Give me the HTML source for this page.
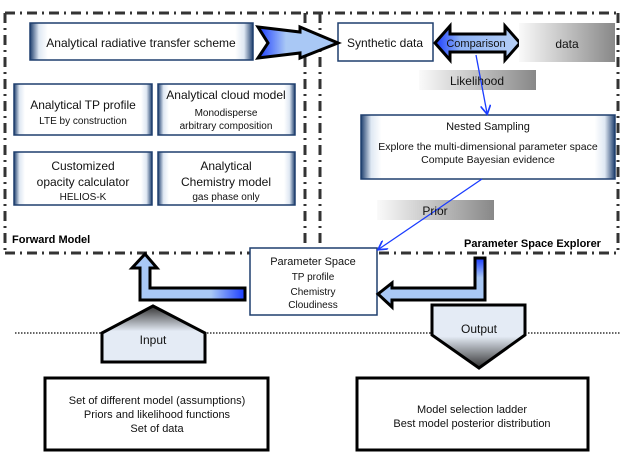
<!DOCTYPE html>
<html><head><meta charset="utf-8"><style>
body{margin:0;background:#fff;}
svg text{font-family:"Liberation Sans",sans-serif;}
</style></head><body>
<svg width="623" height="460" viewBox="0 0 623 460" xmlns="http://www.w3.org/2000/svg">
<defs>
<linearGradient id="bx" x1="0" x2="1" y1="0" y2="0">
<stop offset="0" stop-color="#1f3f6e"/><stop offset="0.04" stop-color="#dfe8f3"/><stop offset="0.08" stop-color="#fff"/><stop offset="0.92" stop-color="#fff"/><stop offset="0.96" stop-color="#dfe8f3"/><stop offset="1" stop-color="#1f3f6e"/>
</linearGradient>
<linearGradient id="gr" x1="0" x2="1"><stop offset="0" stop-color="#fafafa"/><stop offset="1" stop-color="#888"/></linearGradient>
<linearGradient id="ar" x1="0" x2="1"><stop offset="0" stop-color="#1a3cff"/><stop offset="0.35" stop-color="#a9c8f5"/><stop offset="1" stop-color="#a9c8f5"/></linearGradient>
<linearGradient id="arL" x1="1" x2="0"><stop offset="0" stop-color="#1a3cff"/><stop offset="0.3" stop-color="#a9c8f5"/><stop offset="1" stop-color="#a9c8f5"/></linearGradient>
<linearGradient id="arD" x1="0" x2="0" y1="0" y2="1"><stop offset="0" stop-color="#1a3cff"/><stop offset="0.4" stop-color="#a9c8f5"/><stop offset="1" stop-color="#a9c8f5"/></linearGradient>
<linearGradient id="cmp" x1="0" x2="1"><stop offset="0" stop-color="#1a3cff"/><stop offset="0.3" stop-color="#8fb3f5"/><stop offset="1" stop-color="#b7d0f5"/></linearGradient>
<linearGradient id="out" x1="0" x2="0" y1="0" y2="1"><stop offset="0" stop-color="#e4ebf5"/><stop offset="0.5" stop-color="#e4ebf5"/><stop offset="1" stop-color="#333"/></linearGradient>
<linearGradient id="inp" x1="0" x2="0" y1="0" y2="1"><stop offset="0" stop-color="#333"/><stop offset="0.45" stop-color="#e4ebf5"/><stop offset="1" stop-color="#e4ebf5"/></linearGradient>
<marker id="ah" markerWidth="8" markerHeight="8" refX="6" refY="4" orient="auto"><path d="M0,0 L7,4 L0,8" fill="none" stroke="#1a3cff" stroke-width="1.3"/></marker>
</defs>
<g stroke="#333" stroke-width="3" fill="none" stroke-dasharray="10,5,2,5">
<line x1="5" y1="13" x2="620" y2="13"/>
<line x1="5" y1="13" x2="5" y2="250"/>
<line x1="305" y1="13" x2="305" y2="250"/>
<line x1="320" y1="13" x2="320" y2="250"/>
<line x1="618" y1="13" x2="618" y2="250"/>
<line x1="5" y1="253" x2="620" y2="253"/>
</g>
<line x1="15" y1="333" x2="620" y2="333" stroke="#333" stroke-width="1.5" stroke-dasharray="1.5,1.5"/>
<g stroke="#1f3f6e" stroke-width="1.5" fill="url(#bx)">
<rect x="30" y="23" width="223" height="37"/>
<rect x="14" y="84" width="138" height="51"/>
<rect x="158" y="84" width="137" height="51"/>
<rect x="14" y="152" width="138" height="53"/>
<rect x="158" y="152" width="137" height="53"/>
<rect x="361" y="115" width="254" height="64"/>
<rect x="338" y="23" width="95" height="38" fill="#fff"/>
<rect x="250" y="248" width="127" height="67" fill="#fff"/>
</g>
<path d="M258,27 L300,32 L300,27 L338,43 L300,58 L300,53 L258,58 L268,43 Z" fill="url(#ar)" stroke="#000" stroke-width="3"/>
<path d="M435,43 L450,26 L450,34 L505,34 L505,26 L520,43 L505,60 L505,52 L450,52 L450,60 Z" fill="url(#cmp)" stroke="#000" stroke-width="3"/>
<rect x="519" y="23" width="96" height="39" fill="url(#gr)"/>
<rect x="419" y="70" width="117" height="20" fill="url(#gr)"/>
<rect x="377" y="200" width="117" height="20" fill="url(#gr)"/>
<line x1="476" y1="55" x2="487" y2="113" stroke="#1a3cff" stroke-width="1.3" marker-end="url(#ah)"/>
<line x1="482" y1="179" x2="379" y2="249" stroke="#1a3cff" stroke-width="1.3" marker-end="url(#ah)"/>
<path d="M245,288 L150,288 L150,268 L157,268 L145,254 L132,268 L140,268 L140,300 L245,300 Z" fill="url(#arL)" stroke="#000" stroke-width="3"/>
<path d="M475,258 L485,258 L485,300 L392,300 L392,307 L378,294 L392,283 L392,288 L475,288 Z" fill="url(#arD)" stroke="#000" stroke-width="3"/>
<path d="M102,333 L153,306 L205,333 L205,362 L102,362 Z" fill="url(#inp)" stroke="#000" stroke-width="3"/>
<path d="M432,305 L525,305 L525,335 L479,368 L432,335 Z" fill="url(#out)" stroke="#000" stroke-width="3"/>
<rect x="45" y="378" width="223" height="72" fill="#fff" stroke="#000" stroke-width="3"/>
<rect x="357" y="378" width="231" height="72" fill="#fff" stroke="#000" stroke-width="3"/>
<g font-size="12" fill="#111" text-anchor="middle">
<text x="141" y="47">Analytical radiative transfer scheme</text>
<text x="83" y="109">Analytical TP profile</text>
<text x="83" y="124" font-size="10">LTE by construction</text>
<text x="226" y="99">Analytical cloud model</text>
<text x="226" y="116" font-size="10">Monodisperse</text>
<text x="226" y="129" font-size="10">arbitrary composition</text>
<text x="83" y="170">Customized</text>
<text x="83" y="186">opacity calculator</text>
<text x="83" y="200" font-size="10">HELIOS-K</text>
<text x="226" y="170">Analytical</text>
<text x="226" y="186">Chemistry model</text>
<text x="226" y="200" font-size="10">gas phase only</text>
<text x="385" y="47">Synthetic data</text>
<text x="476" y="47" font-size="11">Comparison</text>
<text x="567" y="48">data</text>
<text x="477" y="85">Likelihood</text>
<text x="488" y="130" font-size="11">Nested Sampling</text>
<text x="488" y="150" font-size="10.5">Explore the multi-dimensional parameter space</text>
<text x="488" y="163" font-size="10.5">Compute Bayesian evidence</text>
<text x="435" y="215">Prior</text>
<text x="313" y="265" font-size="11">Parameter Space</text>
<text x="313" y="280" font-size="10">TP profile</text>
<text x="313" y="295" font-size="10">Chemistry</text>
<text x="313" y="308" font-size="10">Cloudiness</text>
<text x="153" y="344">Input</text>
<text x="479" y="333">Output</text>
<text x="157" y="404" font-size="11">Set of different model (assumptions)</text>
<text x="157" y="418" font-size="11">Priors and likelihood functions</text>
<text x="157" y="432" font-size="11">Set of data</text>
<text x="472" y="413" font-size="11">Model selection ladder</text>
<text x="472" y="427" font-size="11">Best model posterior distribution</text>
</g>
<text x="12" y="243" font-size="11" font-weight="bold">Forward Model</text>
<text x="464" y="247" font-size="11" font-weight="bold">Parameter Space Explorer</text>
</svg>
</body></html>
